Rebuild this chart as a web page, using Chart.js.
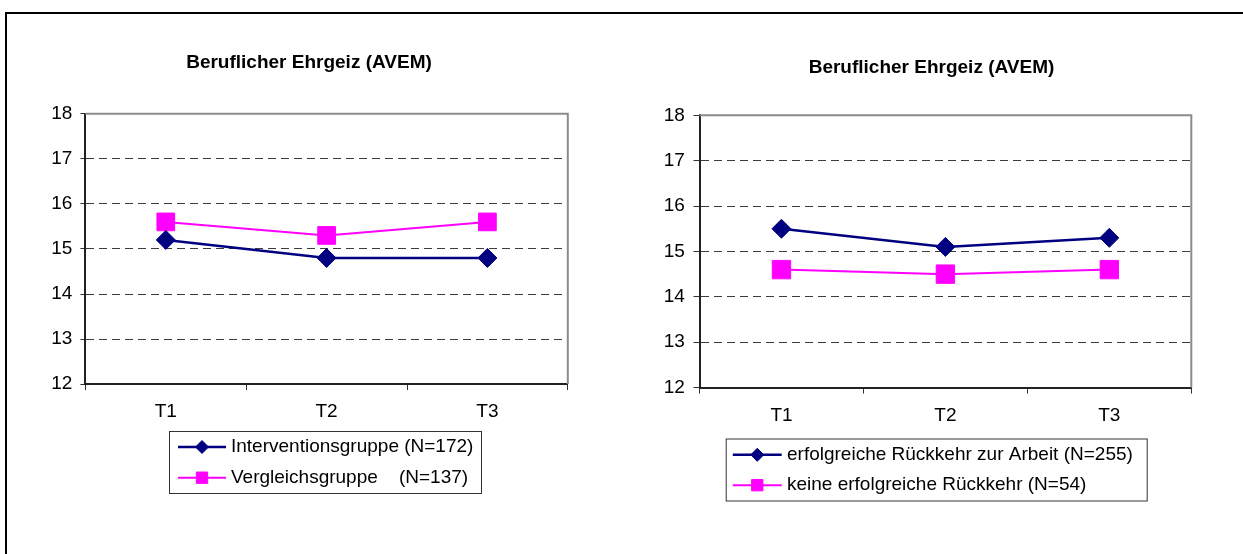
<!DOCTYPE html>
<html>
<head>
<meta charset="utf-8">
<script src="https://cdn.jsdelivr.net/npm/chart.js@4/dist/chart.umd.min.js"></script>
<style>
  body { margin: 0; background: #fff; }
  .rahmen { position: absolute; left: 5px; top: 12px; right: 0; bottom: 0; border-top: 2px solid #000; border-left: 2px solid #000; }
  .feld { position: absolute; top: 0; height: 554px; }
</style>
</head>
<body>
<div class="rahmen"></div>
<div class="feld" style="left:0;width:618px"><canvas id="chartLinks"></canvas></div>
<div class="feld" style="left:620px;width:623px"><canvas id="chartRechts"></canvas></div>
<script>
const zeitpunkte = ['T1', 'T2', 'T3'];
const interventionsgruppe = [15.2, 14.8, 14.8];
const vergleichsgruppe = [15.6, 15.3, 15.6];
const rueckkehrErfolgreich = [15.5, 15.1, 15.3];
const rueckkehrKeine = [14.6, 14.5, 14.6];
const titel = 'Beruflicher Ehrgeiz (AVEM)';
const yMin = 12;
const yMax = 18;

const schrift = 'Arial, "Liberation Sans", sans-serif';
const blau = '#000080';
const pink = '#ff00ff';

// grauer Rahmen oben und rechts um die Zeichenfläche
const rahmenPlugin = {
    id: 'rahmen',
    beforeDatasetsDraw(chart) {
        const { ctx, chartArea: a } = chart;
        ctx.save();
        ctx.strokeStyle = '#8c8c8c';
        ctx.lineWidth = 2;
        ctx.beginPath();
        ctx.moveTo(a.left, a.top);
        ctx.lineTo(a.right, a.top);
        ctx.lineTo(a.right, a.bottom);
        ctx.stroke();
        ctx.restore();
    }
};

// Titel frei positioniert (nicht über die Achse zentriert)
const titelPlugin = {
    id: 'titelText',
    afterDraw(chart, args, o) {
        const ctx = chart.ctx;
        ctx.save();
        ctx.fillStyle = '#000';
        ctx.font = 'bold 19px ' + schrift;
        ctx.textAlign = 'center';
        ctx.textBaseline = 'middle';
        ctx.fillText(o.text, o.x, o.y);
        ctx.restore();
    }
};

// Legende im Kasten mit Linie + Marker wie in Excel
const legendePlugin = {
    id: 'kastenLegende',
    afterDraw(chart, args, o) {
        const ctx = chart.ctx;
        ctx.save();
        ctx.fillStyle = '#fff';
        ctx.fillRect(o.x, o.y, o.w, o.h);
        ctx.strokeStyle = '#333';
        ctx.lineWidth = 1;
        ctx.strokeRect(o.x + 0.5, o.y + 0.5, o.w, o.h);
        chart.data.datasets.forEach((ds, i) => {
            const y = o.zeilen[i];
            ctx.strokeStyle = ds.borderColor;
            ctx.lineWidth = ds.borderWidth;
            ctx.beginPath();
            ctx.moveTo(o.linie[0], y);
            ctx.lineTo(o.linie[1], y);
            ctx.stroke();
            ctx.fillStyle = ds.pointBackgroundColor;
            ctx.strokeStyle = ds.pointBorderColor;
            ctx.lineWidth = 1;
            Chart.helpers.drawPoint(ctx, { pointStyle: ds.pointStyle, radius: o.punkt[i], borderWidth: 1 },
                (o.linie[0] + o.linie[1]) / 2, y);
            ctx.fillStyle = '#000';
            ctx.font = '19px ' + schrift;
            ctx.textBaseline = 'middle';
            ctx.textAlign = 'left';
            ctx.fillText(ds.label, o.text, y);
        });
        ctx.restore();
    }
};

function reihe(label, daten, farbe, form, radius, breite) {
    return {
        label: label,
        data: daten,
        borderColor: farbe,
        backgroundColor: farbe,
        borderWidth: breite,
        pointStyle: form,
        pointRadius: radius,
        pointBackgroundColor: farbe,
        pointBorderColor: farbe,
        pointBorderWidth: 1,
        tension: 0
    };
}

function ehrgeizChart(id, datasets, m) {
    return new Chart(document.getElementById(id), {
        type: 'line',
        data: { labels: zeitpunkte, datasets: datasets },
        plugins: [rahmenPlugin, titelPlugin, legendePlugin],
        options: {
            responsive: true,
            maintainAspectRatio: false,
            animation: false,
            events: [],
            layout: { padding: m.padding },
            plugins: {
                legend: { display: false },
                tooltip: { enabled: false },
                title: { display: false },
                titelText: { text: titel, x: m.titel[0], y: m.titel[1] },
                kastenLegende: m.legende
            },
            scales: {
                x: {
                    offset: true,
                    afterFit: (s) => { s.height = 50; },
                    ticks: { padding: m.xPadding, color: '#000', font: { family: schrift, size: 19 } },
                    grid: { offset: true, drawOnChartArea: false, tickLength: 6, color: '#333', tickColor: '#333' },
                    border: { display: true, color: '#222', width: 2 }
                },
                y: {
                    min: yMin,
                    max: yMax,
                    afterFit: (s) => { s.width = 50; },
                    ticks: { stepSize: 1, padding: m.yPadding, color: '#000', font: { family: schrift, size: 19 } },
                    grid: {
                        color: (c) => (c.tick && (c.tick.value === yMin || c.tick.value === yMax)) ? 'rgba(0,0,0,0)' : '#3c3c3c',
                        tickColor: '#333',
                        tickLength: m.yTick,
                        lineWidth: 1
                    },
                    border: { display: true, color: '#222', width: 2, dash: [8, 5] }
                }
            }
        }
    });
}

ehrgeizChart('chartLinks', [
    reihe('Interventionsgruppe (N=172)', interventionsgruppe, blau, 'rectRot', 9.5, 2.5),
    reihe('Vergleichsgruppe    (N=137)', vergleichsgruppe, pink, 'rect', 12.5, 2)
], {
    padding: { left: 35.4, right: 50.2, top: 113.8, bottom: 119.9 },
    titel: [309, 62.9],
    xPadding: 10.5,
    yPadding: 8,
    yTick: 5,
    legende: { x: 169, y: 431, w: 312, h: 62, zeilen: [447, 477.7], linie: [178, 226], text: 231, punkt: [6.5, 8] }
});

ehrgeizChart('chartRechts', [
    reihe('erfolgreiche Rückkehr zur Arbeit (N=255)', rueckkehrErfolgreich, blau, 'rectRot', 9.5, 2.5),
    reihe('keine erfolgreiche Rückkehr (N=54)', rueckkehrKeine, pink, 'rect', 13, 2)
], {
    padding: { left: 29.5, right: 51.7, top: 115.3, bottom: 116.4 },
    titel: [311.5, 67.8],
    xPadding: 10.8,
    yPadding: 8.7,
    yTick: 6,
    legende: { x: 105.7, y: 438.5, w: 421, h: 62, zeilen: [454.8, 485.2], linie: [112.8, 161.7], text: 167, punkt: [6.5, 8] }
});
</script>
</body>
</html>
